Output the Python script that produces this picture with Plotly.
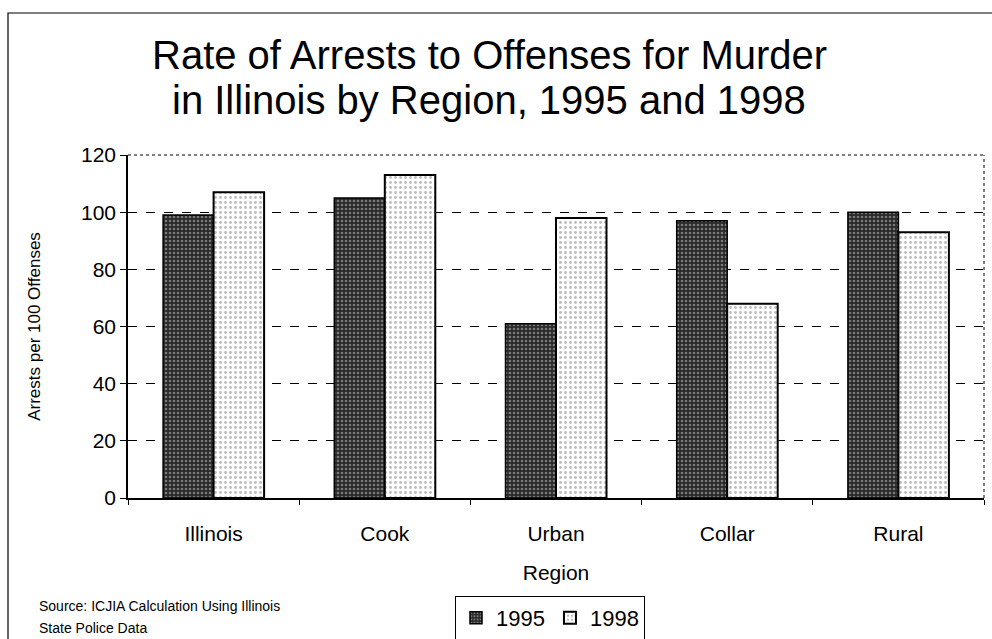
import plotly.graph_objects as go

regions = ["Illinois", "Cook", "Urban", "Collar", "Rural"]
rate_1995 = [99, 105, 61, 97, 100]
rate_1998 = [107, 113, 98, 68, 93]
y_ticks = [0, 20, 40, 60, 80, 100, 120]

fig = go.Figure()
fig.add_trace(go.Bar(
    name="1995", x=regions, y=rate_1995,
    marker=dict(color="#2a2a2a", line=dict(color="black", width=1.5),
                pattern=dict(shape=".", fgcolor="#c8c8c8", bgcolor="#2a2a2a", size=4, solidity=0.35)),
))
fig.add_trace(go.Bar(
    name="1998", x=regions, y=rate_1998,
    marker=dict(color="white", line=dict(color="black", width=2),
                pattern=dict(shape=".", fgcolor="#777777", bgcolor="white", size=5, solidity=0.25)),
))

W, H = 992, 639
L, R, T, B = 128, 8, 155, 141
pw, ph = W - L - R, H - T - B

def px_x(px):
    return (px - L) / pw

def px_y(py):
    return (H - B - py) / ph

font = "Liberation Sans, Arial, sans-serif"

fig.update_layout(
    width=W, height=H,
    margin=dict(l=L, r=R, t=T, b=B, autoexpand=False),
    paper_bgcolor="white", plot_bgcolor="white",
    barmode="group", bargap=0.41, bargroupgap=0,
    font=dict(family=font, color="black"),
    showlegend=True,
    legend=dict(orientation="h", x=px_x(455), y=px_y(596), xanchor="left", yanchor="top",
                bordercolor="black", borderwidth=1, bgcolor="white",
                font=dict(size=22, family=font), itemwidth=30, tracegroupgap=0),
    xaxis=dict(showline=True, linecolor="black", linewidth=1.5, ticks="outside",
               tickson="boundaries", ticklen=5, tickcolor="black", ticklabelstandoff=16,
               tickfont=dict(size=21), title=dict(text="Region", font=dict(size=21), standoff=21),
               mirror=False),
    yaxis=dict(range=[0, 120], tickvals=y_ticks, showline=True, linecolor="black", linewidth=1.5,
               ticks="outside", ticklen=6, tickcolor="black", tickfont=dict(size=21),
               showgrid=True, gridcolor="black", griddash="dash", gridwidth=1,
               zeroline=False,
               title=dict(text="Arrests per 100 Offenses", font=dict(size=17), standoff=36)),
)

# plot area top / right dotted borders
fig.add_shape(type="line", xref="paper", yref="paper", x0=0, x1=1, y0=1, y1=1,
              line=dict(color="black", width=1, dash="dot"))
fig.add_shape(type="line", xref="paper", yref="paper", x0=1, x1=1, y0=0, y1=1,
              line=dict(color="black", width=1, dash="dot"))
# outer chart border
fig.add_shape(type="rect", xref="paper", yref="paper",
              x0=px_x(8), x1=px_x(1000), y0=px_y(660), y1=px_y(13),
              line=dict(color="black", width=1.2), layer="below")

fig.add_annotation(text="Rate of Arrests to Offenses for Murder",
                   xref="paper", yref="paper", x=px_x(489), y=px_y(55), xanchor="center", yanchor="middle",
                   showarrow=False, font=dict(size=40, family=font))
fig.add_annotation(text="in Illinois by Region, 1995 and 1998",
                   xref="paper", yref="paper", x=px_x(489), y=px_y(100), xanchor="center", yanchor="middle",
                   showarrow=False, font=dict(size=40, family=font))
fig.add_annotation(text="Source: ICJIA Calculation Using Illinois",
                   xref="paper", yref="paper", x=px_x(37), y=px_y(606), xanchor="left", yanchor="middle",
                   showarrow=False, font=dict(size=14, family=font), align="left")
fig.add_annotation(text="State Police Data",
                   xref="paper", yref="paper", x=px_x(37), y=px_y(628), xanchor="left", yanchor="middle",
                   showarrow=False, font=dict(size=14, family=font), align="left")

fig.write_html("out.html", config={"displayModeBar": False},
               post_script="document.body.style.margin='0';")
